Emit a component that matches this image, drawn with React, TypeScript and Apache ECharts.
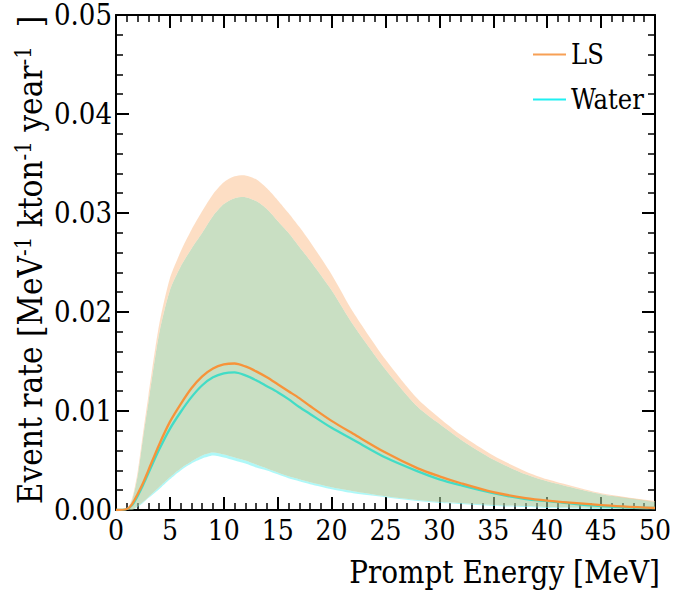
import React, { useEffect, useRef } from "react";
import * as echarts from "echarts";

// Prompt energy grid [MeV]
const energy = [0, 1, 1.5, 2, 2.5, 3, 4, 5, 6, 7, 8, 9, 10, 11, 12, 13, 14, 15, 16, 17, 18, 20, 22, 25, 28, 30, 32, 35, 38, 40, 45, 50];

// Central predictions [MeV^-1 kton^-1 year^-1]
const lsCentral = [0, 0.0001, 0.0006, 0.0016, 0.0027, 0.004, 0.0066, 0.0089, 0.0107, 0.0123, 0.0135, 0.0143, 0.0147, 0.0148, 0.0145, 0.014, 0.0134, 0.0127, 0.012, 0.0113, 0.0105, 0.009, 0.0077, 0.0058, 0.0042, 0.0034, 0.0027, 0.0018, 0.0012, 0.00095, 0.0005, 0.0002];
const waterCentral = [0, 0.0001, 0.0005, 0.0014, 0.0025, 0.0037, 0.0061, 0.0082, 0.0099, 0.0114, 0.0126, 0.0134, 0.0138, 0.0139, 0.0136, 0.0131, 0.0125, 0.0119, 0.0112, 0.0104, 0.0097, 0.0083, 0.0071, 0.0053, 0.0039, 0.0031, 0.0025, 0.0017, 0.0011, 0.0009, 0.0004, 0.0002];

// Uncertainty bands
const lsUpper = [0, 0.0001, 0.0012, 0.0038, 0.0077, 0.0115, 0.0187, 0.0234, 0.0261, 0.0283, 0.0302, 0.0319, 0.0331, 0.0337, 0.0338, 0.0334, 0.0325, 0.0313, 0.03, 0.0286, 0.0271, 0.0238, 0.02, 0.0152, 0.0112, 0.0093, 0.0076, 0.0055, 0.0039, 0.0031, 0.0017, 0.0009];
const lsLower = [0, 0, 0, 0.0004, 0.0008, 0.0013, 0.0023, 0.0033, 0.0042, 0.0049, 0.0055, 0.0058, 0.0056, 0.0053, 0.005, 0.0046, 0.0042, 0.0038, 0.0034, 0.0031, 0.0028, 0.0023, 0.0019, 0.0014, 0.001, 0.0008, 0.0007, 0.0005, 0.0004, 0.0003, 0.0002, 0.0001];
const waterUpper = [0, 0.0001, 0.001, 0.0034, 0.0072, 0.0108, 0.0178, 0.0222, 0.0246, 0.0264, 0.0280, 0.0297, 0.0309, 0.0315, 0.0316, 0.0312, 0.0304, 0.0292, 0.028, 0.0266, 0.0252, 0.0222, 0.0187, 0.0142, 0.0104, 0.0087, 0.0071, 0.0051, 0.0036, 0.0029, 0.0016, 0.0008];
const waterLower = [0, 0, 0, 0.0003, 0.0007, 0.0012, 0.0021, 0.0031, 0.004, 0.0047, 0.0052, 0.0055, 0.0053, 0.005, 0.0047, 0.0043, 0.004, 0.0036, 0.0032, 0.0029, 0.0026, 0.0021, 0.0017, 0.0013, 0.0009, 0.0007, 0.0006, 0.0004, 0.0003, 0.0002, 0.0001, 0.0001];

const xTicks = { min: 0, max: 50, interval: 5 };
const yTicks = { min: 0, max: 0.05, interval: 0.01 };

const SERIF_C = "DejaVu Serif Condensed";

const pairs = (ys: number[]) => energy.map((x, i) => [x, ys[i]]);

// band regions: [lower edge, upper edge, colour]
const bandRegions: [number[], number[], string][] = [
  [waterLower, lsLower, "rgba(120,243,243,0.6)"],
  [lsLower, waterUpper, "rgba(165,202,155,0.6)"],
  [waterUpper, lsUpper, "rgba(252,200,157,0.6)"],
];

export default function App() {
  const ref = useRef<HTMLDivElement>(null);
  useEffect(() => {
    const chart = echarts.init(ref.current!, null, { renderer: "svg" });
    const axisCommon = {
      axisLine: { show: true, onZero: false, lineStyle: { color: "#000", width: 2 } },
      axisTick: { show: true, inside: true, length: 13, lineStyle: { color: "#000", width: 2 } },
      minorTick: { show: true, splitNumber: 5, length: 7, lineStyle: { color: "#000", width: 1.5 } },
      splitLine: { show: false },
    };
    chart.setOption({
      animation: false,
      backgroundColor: "#fff",
      grid: { left: 116, right: 16, top: 15, bottom: 80 },
      xAxis: [
        {
          type: "value",
          position: "bottom",
          ...xTicks,
          ...axisCommon,
          axisLabel: { fontSize: 28, color: "#000", fontFamily: SERIF_C, margin: 6 },
        },
        {
          type: "value",
          position: "top",
          ...xTicks,
          ...axisCommon,
          axisLabel: { show: false },
        },
      ],
      yAxis: [
        {
          type: "value",
          position: "left",
          ...yTicks,
          ...axisCommon,
          axisLabel: {
            fontSize: 29,
            color: "#000",
            fontFamily: SERIF_C,
            margin: 4,
            formatter: (v: number) => v.toFixed(2),
          },
        },
        {
          type: "value",
          position: "right",
          ...yTicks,
          ...axisCommon,
          axisLabel: { show: false },
        },
      ],
      legend: {
        left: 528,
        top: 36,
        orient: "vertical",
        icon: "rect",
        itemWidth: 33,
        itemHeight: 2,
        itemGap: 18,
        selectedMode: false,
        textStyle: { fontSize: 27, color: "#000", fontFamily: SERIF_C, padding: [0, 0, 0, 0] },
        data: [
          { name: "LS", itemStyle: { color: "#f7a055" } },
          { name: "Water", itemStyle: { color: "#1ff0f2" } },
        ],
      },
      series: [
        {
          type: "custom",
          name: "bands",
          silent: true,
          clip: true,
          z: 2,
          data: [[0, 0]],
          renderItem: (_params: any, api: any) => ({
            type: "group",
            children: bandRegions.map(([lo, hi, color]) => {
              const top = energy.map((x, i) => api.coord([x, hi[i]]));
              const bottom = energy.map((x, i) => api.coord([x, lo[i]])).reverse();
              return {
                type: "polygon",
                shape: { points: top.concat(bottom), smooth: 0.25 },
                style: { fill: color, stroke: "none" },
              };
            }),
          }),
        },
        {
          type: "line",
          name: "Water",
          data: pairs(waterCentral),
          showSymbol: false,
          symbol: "none",
          smooth: 0.3,
          lineStyle: { color: "#42dcc6", width: 2.3 },
          itemStyle: { color: "#42dcc6" },
          z: 4,
        },
        {
          type: "line",
          name: "LS",
          data: pairs(lsCentral),
          showSymbol: false,
          symbol: "none",
          smooth: 0.3,
          lineStyle: { color: "#f7933a", width: 2.3 },
          itemStyle: { color: "#f7933a" },
          z: 5,
        },
      ],
      graphic: [
        {
          type: "text",
          right: 14,
          top: 556,
          style: {
            text: "Prompt Energy [MeV]",
            fontSize: 31,
            fontFamily: SERIF_C,
            fill: "#000",
          },
        },
        {
          type: "text",
          x: 30,
          y: 260,
          rotation: Math.PI / 2,
          style: {
            text: "{a|Event rate [MeV}{s|-1}{a| kton}{s|-1}{a| year}{s|-1}{a|  ]}",
            align: "center",
            verticalAlign: "middle",
            fill: "#000",
            rich: {
              a: { fontSize: 33, fontFamily: SERIF_C, fill: "#000", lineHeight: 38 },
              s: { fontSize: 22, fontFamily: SERIF_C, fill: "#000", padding: [0, 0, 14, 0], lineHeight: 38 },
            },
          },
        },
      ],
    });
    return () => chart.dispose();
  }, []);
  return (
    <div
      ref={ref}
      style={{ position: "fixed", left: 0, top: 0, width: 674, height: 590, background: "#fff" }}
    />
  );
}
